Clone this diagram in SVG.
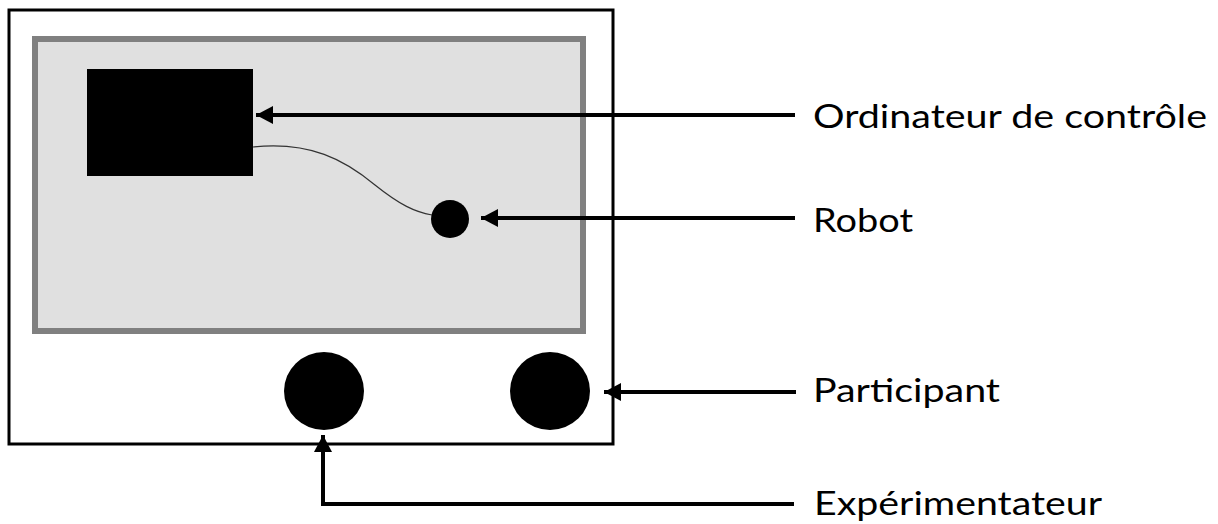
<svg xmlns="http://www.w3.org/2000/svg" width="1218" height="524" viewBox="0 0 1218 524">
<style>
.lbl{font-family:Lato,"Open Sans","Liberation Sans",sans-serif;font-size:33px;fill:#000}
.conn{stroke:#000;stroke-width:4;fill:none}
</style>
<defs>
<marker id="ah" markerUnits="userSpaceOnUse" markerWidth="18" markerHeight="18" refX="17" refY="9" orient="auto">
<path d="M0,0 L17,9 L0,18 Z" fill="#000"/>
</marker>
</defs>
<rect width="1218" height="524" fill="#fff"/>
<g id="room">
<rect x="9" y="10" width="604" height="434" fill="#fff" stroke="#000" stroke-width="3"/>
</g>
<g id="table">
<rect x="35" y="39" width="548" height="292" fill="#e0e0e0" stroke="#808080" stroke-width="6"/>
</g>
<g id="ordinateur">
<rect x="87" y="69" width="166" height="107" fill="#000"/>
</g>
<g id="robot">
<circle cx="450" cy="219" r="19" fill="#000"/>
</g>
<g id="participant">
<ellipse cx="550" cy="391" rx="40" ry="39" fill="#000"/>
</g>
<g id="experimentateur">
<ellipse cx="324" cy="391" rx="40" ry="39" fill="#000"/>
</g>
<g id="cable">
<path d="M253,147 C310,141 345,160 375,185 C400,205 415,212 432,215" fill="none" stroke="#333" stroke-width="1.2"/>
</g>
<g id="connectors">
<path class="conn" d="M795,115 L256,115" marker-end="url(#ah)"/>
<path class="conn" d="M795,218 L481,218" marker-end="url(#ah)"/>
<path class="conn" d="M796,392 L604,392" marker-end="url(#ah)"/>
<path class="conn" d="M794,504 L323,504 L323,435" marker-end="url(#ah)"/>
</g>
<g id="labels">
<text class="lbl" x="813" y="128" textLength="394" lengthAdjust="spacingAndGlyphs">Ordinateur de contrôle</text>
<text class="lbl" x="813" y="232" textLength="100" lengthAdjust="spacingAndGlyphs">Robot</text>
<text class="lbl" x="813" y="402" textLength="187" lengthAdjust="spacingAndGlyphs">Participant</text>
<text class="lbl" x="814" y="515" textLength="288" lengthAdjust="spacingAndGlyphs">Expérimentateur</text>
</g>
</svg>
